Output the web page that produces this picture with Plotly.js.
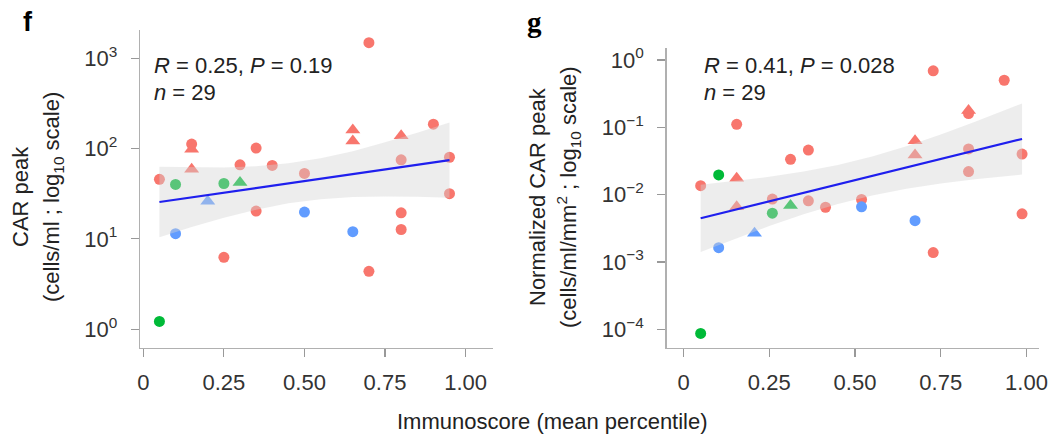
<!DOCTYPE html>
<html>
<head>
<meta charset="utf-8">
<script src="https://cdn.plot.ly/plotly-3.0.1.min.js"></script>
<style>html,body{margin:0;padding:0;background:#fff;}#chart{width:1058px;height:435px;}</style>
</head>
<body>
<div id="chart"></div>
<script>
// ---------- Panel f: CAR peak (cells/ml) ----------
const fX = [0.70, 0.90, 0.65, 0.65, 0.80, 0.15, 0.15, 0.15, 0.35, 0.30, 0.40, 0.50, 0.80, 0.95, 0.95,
            0.05, 0.10, 0.25, 0.30, 0.20, 0.35, 0.50, 0.80, 0.80, 0.10, 0.65, 0.25, 0.70, 0.05];
const fY = [1480, 186, 160, 121, 138, 112, 98, 59, 101, 66, 65, 53, 75, 80, 31.6,
            45.6, 40, 41, 42, 26, 20.3, 19.8, 19.4, 12.7, 11.4, 12.0, 6.25, 4.37, 1.22];
const fGroup = ['a','a','a','a','a','a','a','a','a','a','a','a','a','a','a',
                'a','b','b','b','c','a','c','a','a','c','c','a','a','b'];
const fShape = ['o','o','t','t','t','o','t','t','o','o','o','o','o','o','o',
                'o','o','o','t','t','o','o','o','o','o','o','o','o','o'];
// fitted line and confidence band
const fFitX  = [0.05, 0.15, 0.25, 0.35, 0.45, 0.55, 0.65, 0.75, 0.85, 0.95];
const fFitY  = [25.6, 28.8, 32.5, 36.6, 41.2, 46.3, 52.1, 58.7, 66.1, 74.5];
const fFitLo = [10.4, 13.5, 17.1, 21.0, 24.8, 27.5, 29.0, 29.5, 29.2, 28.6];
const fFitHi = [63.0, 61.8, 61.8, 63.7, 68.5, 78.0, 93.5, 117, 149, 194];

// ---------- Panel g: Normalized CAR peak (cells/ml/mm2) ----------
const gX = [0.728, 0.935, 0.831, 0.831, 0.155, 0.675, 0.675, 0.364, 0.312, 0.831, 0.831, 0.987, 0.05, 0.1025, 0.155,
            0.155, 0.259, 0.364, 0.414, 0.519, 0.519, 0.312, 0.259, 0.675, 0.207, 0.1025, 0.987, 0.728, 0.05];
const gY = [0.69, 0.50, 0.16, 0.178, 0.111, 0.0634, 0.0389, 0.046, 0.0335, 0.0477, 0.022, 0.040, 0.0136, 0.0196, 0.0175,
            0.0066, 0.0086, 0.0081, 0.0065, 0.0085, 0.0066, 0.0069, 0.0053, 0.0041, 0.00267, 0.00163, 0.0052, 0.00138, 0.000087];
const gGroup = ['a','a','a','a','a','a','a','a','a','a','a','a','a','b','a',
                'a','a','a','a','a','c','b','b','c','c','c','a','a','b'];
const gShape = ['o','o','o','t','o','t','t','o','o','o','o','o','o','o','t',
                't','o','o','o','o','o','t','o','o','t','o','o','o','o'];
const gFitX  = [0.05, 0.15, 0.25, 0.35, 0.45, 0.55, 0.65, 0.75, 0.85, 0.987];
const gFitY  = [0.00446, 0.00596, 0.00794, 0.01062, 0.01419, 0.01892, 0.0253, 0.0338, 0.0452, 0.0671];
const gFitLo = [0.00141, 0.00222, 0.00343, 0.00513, 0.00729, 0.00973, 0.01222, 0.01459, 0.01687, 0.0199];
const gFitHi = [0.01409, 0.01596, 0.0184, 0.0220, 0.0276, 0.0368, 0.0524, 0.0783, 0.1211, 0.2265];

// ---------- tick labels ----------
const xTickVals = [0, 0.25, 0.5, 0.75, 1];
const xTickText = ['0', '0.25', '0.50', '0.75', '1.00'];
const fTickVals = [1, 10, 100, 1000];
const fTickText = ['10<sup>0</sup>', '10<sup>1</sup>', '10<sup>2</sup>', '10<sup>3</sup>'];
const gTickVals = [0.0001, 0.001, 0.01, 0.1, 1];
const gTickText = ['10<sup>\u22124</sup>', '10<sup>\u22123</sup>', '10<sup>\u22122</sup>', '10<sup>\u22121</sup>', '10<sup>0</sup>'];

// ---------- styling ----------
const COLORS = {a: '#F8766D', b: '#00BA38', c: '#619CFF'};
const SYMBOLS = {o: 'circle', t: 'triangle-up'};
const SIZES = {o: 11, t: 13};
const FONT = 'Liberation Sans, Arial, Helvetica, sans-serif';
const W = 1058, H = 435;
const px = v => v / W, py = v => 1 - v / H;

function pointTraces(X, Y, G, S, xa, ya) {
  const traces = [];
  ['a','b','c'].forEach(g => ['o','t'].forEach(s => {
    const xs = [], ys = [];
    X.forEach((x, i) => { if (G[i] === g && S[i] === s) { xs.push(x); ys.push(Y[i]); } });
    if (xs.length) traces.push({
      type: 'scatter', mode: 'markers', x: xs, y: ys, xaxis: xa, yaxis: ya,
      marker: {color: COLORS[g], symbol: SYMBOLS[s], size: SIZES[s], line: {width: 0}},
      hoverinfo: 'x+y', showlegend: false
    });
  }));
  return traces;
}
function bandTrace(fx, lo, hi, xa, ya) {
  return {
    type: 'scatter', mode: 'lines', xaxis: xa, yaxis: ya,
    x: fx.concat(fx.slice().reverse()),
    y: hi.concat(lo.slice().reverse()),
    fill: 'toself', fillcolor: 'rgba(212,212,212,0.42)',
    line: {width: 0, color: 'rgba(0,0,0,0)'}, hoverinfo: 'skip', showlegend: false
  };
}
function lineTrace(fx, fy, xa, ya) {
  return {type: 'scatter', mode: 'lines', x: fx, y: fy, xaxis: xa, yaxis: ya,
          line: {color: '#1f1fee', width: 2.2}, hoverinfo: 'skip', showlegend: false};
}

const data = [].concat(
  pointTraces(fX, fY, fGroup, fShape, 'x', 'y'),
  [bandTrace(fFitX, fFitLo, fFitHi, 'x', 'y'), lineTrace(fFitX, fFitY, 'x', 'y')],
  pointTraces(gX, gY, gGroup, gShape, 'x2', 'y2'),
  [bandTrace(gFitX, gFitLo, gFitHi, 'x2', 'y2'), lineTrace(gFitX, gFitY, 'x2', 'y2')]
);

const axisCommon = {
  showgrid: false, zeroline: false, showline: true, linecolor: '#b0b0b0', linewidth: 1.3,
  ticks: 'outside', ticklen: 8, tickwidth: 1.2, tickcolor: '#999999',
  tickfont: {family: FONT, size: 22, color: '#333333'}, fixedrange: true
};

const layout = {
  width: W, height: H,
  margin: {l: 0, r: 0, t: 0, b: 0},
  paper_bgcolor: '#ffffff', plot_bgcolor: '#ffffff',
  showlegend: false,
  xaxis: Object.assign({}, axisCommon, {
    domain: [px(140), px(493)], range: [-0.0103, 1.085], anchor: 'y',
    tickvals: xTickVals, ticktext: xTickText, ticklabelstandoff: 7
  }),
  yaxis: Object.assign({}, axisCommon, {
    type: 'log', domain: [py(347.7), py(30)], range: [-0.204, 3.311], anchor: 'x',
    tickvals: fTickVals, ticktext: fTickText, ticklabelstandoff: 9
  }),
  xaxis2: Object.assign({}, axisCommon, {
    domain: [px(666.5), px(1039)], range: [-0.0496, 1.0364], anchor: 'y2',
    tickvals: xTickVals, ticktext: xTickText, ticklabelstandoff: 7
  }),
  yaxis2: Object.assign({}, axisCommon, {
    type: 'log', domain: [py(347.7), py(48)], range: [-4.273, 0.178], anchor: 'x2',
    tickvals: gTickVals, ticktext: gTickText, ticklabelstandoff: 9
  }),
  annotations: [
    {text: '<b>f</b>', x: px(28), y: py(22), xref: 'paper', yref: 'paper', showarrow: false,
     xanchor: 'center', yanchor: 'middle', font: {family: 'Liberation Sans, Arial, sans-serif', size: 27, color: '#000'}},
    {text: '<b>g</b>', x: px(534), y: py(22), xref: 'paper', yref: 'paper', showarrow: false,
     xanchor: 'center', yanchor: 'middle', font: {family: 'Liberation Serif, serif', size: 29, color: '#000'}},
    {text: '<i>R</i> = 0.25, <i>P</i> = 0.19', x: px(152), y: py(65), xref: 'paper', yref: 'paper', showarrow: false,
     xanchor: 'left', yanchor: 'middle', font: {family: FONT, size: 22, color: '#222'}},
    {text: '<i>n</i> = 29', x: px(152), y: py(93), xref: 'paper', yref: 'paper', showarrow: false,
     xanchor: 'left', yanchor: 'middle', font: {family: FONT, size: 22, color: '#222'}},
    {text: '<i>R</i> = 0.41, <i>P</i> = 0.028', x: px(702), y: py(65), xref: 'paper', yref: 'paper', showarrow: false,
     xanchor: 'left', yanchor: 'middle', font: {family: FONT, size: 22, color: '#222'}},
    {text: '<i>n</i> = 29', x: px(702), y: py(93), xref: 'paper', yref: 'paper', showarrow: false,
     xanchor: 'left', yanchor: 'middle', font: {family: FONT, size: 22, color: '#222'}},
    {text: 'CAR peak', x: px(20), y: py(197), xref: 'paper', yref: 'paper', showarrow: false, textangle: -90,
     xanchor: 'center', yanchor: 'middle', font: {family: FONT, size: 22, color: '#222'}},
    {text: '(cells/ml ; log<sub>10</sub> scale)', x: px(53), y: py(197), xref: 'paper', yref: 'paper', showarrow: false, textangle: -90,
     xanchor: 'center', yanchor: 'middle', font: {family: FONT, size: 22, color: '#222'}},
    {text: 'Normalized CAR peak', x: px(537), y: py(197), xref: 'paper', yref: 'paper', showarrow: false, textangle: -90,
     xanchor: 'center', yanchor: 'middle', font: {family: FONT, size: 22, color: '#222'}},
    {text: '(cells/ml/mm<sup>2</sup> ; log<sub>10</sub> scale)', x: px(568), y: py(197), xref: 'paper', yref: 'paper', showarrow: false, textangle: -90,
     xanchor: 'center', yanchor: 'middle', font: {family: FONT, size: 22, color: '#222'}},
    {text: 'Immunoscore (mean percentile)', x: px(552), y: py(421), xref: 'paper', yref: 'paper', showarrow: false,
     xanchor: 'center', yanchor: 'middle', font: {family: FONT, size: 22, color: '#222'}}
  ]
};

Plotly.newPlot('chart', data, layout, {staticPlot: true, displayModeBar: false});
</script>
</body>
</html>
